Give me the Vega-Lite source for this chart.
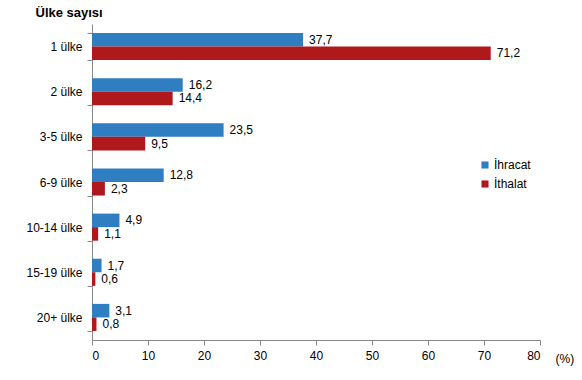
{
  "$schema": "https://vega.github.io/schema/vega-lite/v6.json",
  "width": 448,
  "height": 316,
  "autosize": "none",
  "padding": {"left": 92, "top": 24, "right": 42, "bottom": 40},
  "background": "white",
  "config": {
    "font": "Liberation Sans",
    "view": {"stroke": null},
    "axis": {"labelFont": "Liberation Sans", "labelFontSize": 12, "labelColor": "#000", "domainColor": "#888", "tickColor": "#888", "grid": false}
  },
  "data": {
    "values": [
      {"cat": "1 ülke", "series": "İhracat", "v": 37.7},
      {"cat": "1 ülke", "series": "İthalat", "v": 71.2},
      {"cat": "2 ülke", "series": "İhracat", "v": 16.2},
      {"cat": "2 ülke", "series": "İthalat", "v": 14.4},
      {"cat": "3-5 ülke", "series": "İhracat", "v": 23.5},
      {"cat": "3-5 ülke", "series": "İthalat", "v": 9.5},
      {"cat": "6-9 ülke", "series": "İhracat", "v": 12.8},
      {"cat": "6-9 ülke", "series": "İthalat", "v": 2.3},
      {"cat": "10-14 ülke", "series": "İhracat", "v": 4.9},
      {"cat": "10-14 ülke", "series": "İthalat", "v": 1.1},
      {"cat": "15-19 ülke", "series": "İhracat", "v": 1.7},
      {"cat": "15-19 ülke", "series": "İthalat", "v": 0.6},
      {"cat": "20+ ülke", "series": "İhracat", "v": 3.1},
      {"cat": "20+ ülke", "series": "İthalat", "v": 0.8}
    ]
  },
  "transform": [
    {"calculate": "replace(format(datum.v, '.1f'), '.', ',')", "as": "lbl"}
  ],
  "encoding": {
    "y": {
      "field": "cat", "type": "nominal", "sort": null,
      "scale": {"paddingInner": 0.4, "paddingOuter": 0.2},
      "axis": {
        "title": "Ülke sayısı", "titleAngle": 0, "titleAlign": "left", "titleBaseline": "middle",
        "titleX": -57, "titleY": -12, "titleFont": "Liberation Sans", "titleFontSize": 13, "titleFontWeight": "bold", "titleColor": "#000",
        "tickBand": "extent", "tickSize": 5, "labelPadding": 5
      }
    },
    "yOffset": {"field": "series", "type": "nominal", "scale": {"domain": ["İhracat", "İthalat"]}},
    "x": {
      "field": "v", "type": "quantitative",
      "scale": {"domain": [0, 80], "nice": false},
      "axis": {
        "values": [0, 10, 20, 30, 40, 50, 60, 70, 80], "tickSize": 5, "labelPadding": 5,
        "title": "(%)", "titleAlign": "left", "titleBaseline": "middle", "titleX": 463, "titleY": 18,
        "titleFont": "Liberation Sans", "titleFontSize": 12, "titleFontWeight": "normal", "titleColor": "#000"
      }
    }
  },
  "layer": [
    {
      "mark": {"type": "bar"},
      "encoding": {
        "color": {
          "field": "series", "type": "nominal",
          "scale": {"domain": ["İhracat", "İthalat"], "range": ["#2F7EC1", "#B0191C"]},
          "legend": {
            "title": null, "orient": "none", "legendX": 387, "legendY": 135,
            "symbolType": "square", "symbolSize": 50, "labelFontSize": 12, "labelFont": "Liberation Sans", "labelColor": "#000",
            "rowPadding": 7, "symbolStrokeWidth": 0, "labelOffset": 3
          }
        }
      }
    },
    {
      "mark": {"type": "text", "align": "left", "baseline": "middle", "dx": 6, "fontSize": 12, "color": "#000"},
      "encoding": {"text": {"field": "lbl"}}
    }
  ]
}
